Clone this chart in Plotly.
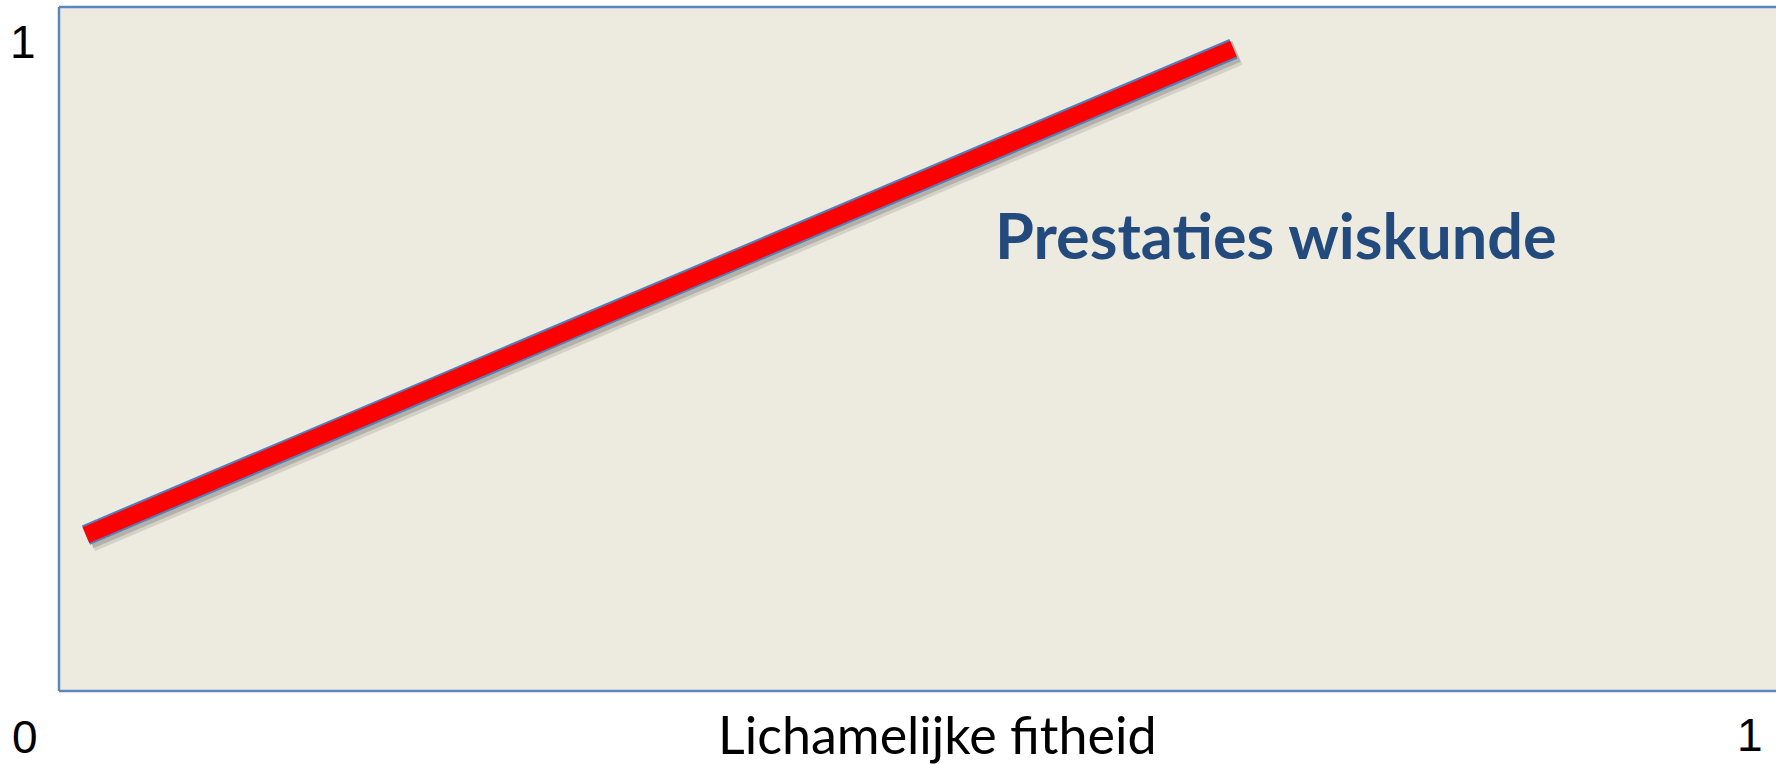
import plotly.graph_objects as go

# Data
fitheid = [0.0157, 0.684]          # Lichamelijke fitheid (x)
prestaties = [0.228, 0.939]        # Prestaties wiskunde (y)
x_title = "Lichamelijke fitheid"
line_label = "Prestaties wiskunde"
tick_labels = ["0", "1"]

W, H = 1776, 764
L, R, T, B = 59, 0, 7, 73
PW, PH = W - L - R, H - T - B

fig = go.Figure()
# soft shadow (offset a few pixels down-right)
for off, op, wd in [(4, 0.10, 26), (3, 0.15, 22)]:
    fig.add_trace(go.Scatter(x=[v + off / PW for v in fitheid],
                             y=[v - off / PH for v in prestaties], mode="lines",
                             line=dict(color="black", width=wd), opacity=op,
                             hoverinfo="skip", showlegend=False))
# outline
fig.add_trace(go.Scatter(x=fitheid, y=prestaties, mode="lines",
                         line=dict(color="#4F81BD", width=21), hoverinfo="skip", showlegend=False))
fig.add_trace(go.Scatter(x=fitheid, y=prestaties, mode="lines",
                         line=dict(color="#FF0000", width=17), hoverinfo="skip", showlegend=False))

fig.update_layout(
    width=W, height=H,
    margin=dict(l=L, r=R, t=T, b=B, pad=0),
    paper_bgcolor="white",
    plot_bgcolor="#EDEAE0",
    xaxis=dict(range=[0, 1], visible=False, fixedrange=True),
    yaxis=dict(range=[0, 1], visible=False, fixedrange=True),
    showlegend=False,
)

# plot border (left, top, bottom)
for x0, x1, y0, y1 in [(0, 0, 0, 1), (0, 1, 1, 1), (0, 1, 0, 0)]:
    fig.add_shape(type="line", xref="paper", yref="paper", x0=x0, x1=x1, y0=y0, y1=y1,
                  line=dict(color="#5B86C0", width=2.5))

def px_to_paper_x(px):
    return (px - L) / PW

def px_to_paper_y(py):
    return (H - B - py) / PH

tick_font = dict(family="Liberation Sans, Arial", size=46, color="black")
for txt, px, py in [(tick_labels[1], 23, 42), (tick_labels[0], 25, 737), (tick_labels[1], 1750, 735)]:
    fig.add_annotation(text=txt, x=px_to_paper_x(px), y=px_to_paper_y(py),
                       xref="paper", yref="paper", showarrow=False, font=tick_font,
                       xanchor="center", yanchor="middle")

# axis title
fig.add_annotation(text=x_title, x=px_to_paper_x(937), y=px_to_paper_y(734),
                   xref="paper", yref="paper", showarrow=False,
                   font=dict(family="Lato, Open Sans", size=52, color="black"),
                   xanchor="center", yanchor="middle")

# line label
fig.add_annotation(text="<b>" + line_label + "</b>", x=px_to_paper_x(1276), y=px_to_paper_y(234),
                   xref="paper", yref="paper", showarrow=False,
                   font=dict(family="Lato, Open Sans", size=63, color="#234A7D"),
                   xanchor="center", yanchor="middle")

fig.write_html("out.html", config={"displayModeBar": False},
               post_script="document.body.style.margin='0';document.body.style.overflow='hidden';")
